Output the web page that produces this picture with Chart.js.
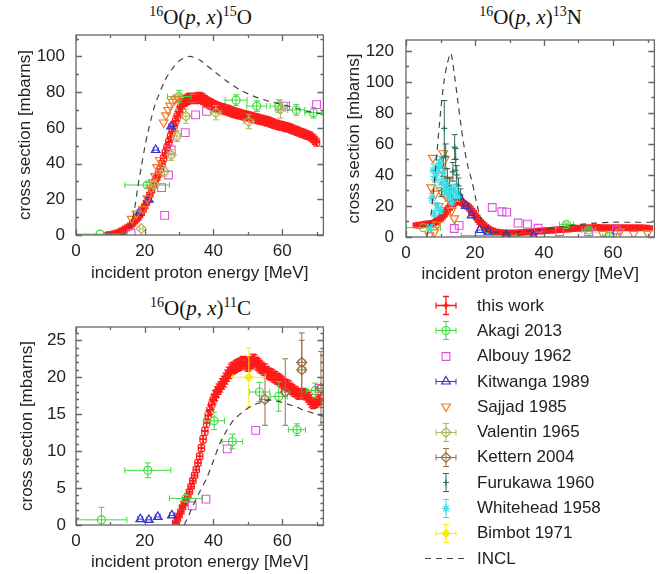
<!DOCTYPE html>
<html>
<head>
<meta charset="utf-8">
<script src="https://cdn.jsdelivr.net/npm/chart.js@4.4.0/dist/chart.umd.min.js"></script>
<style>
body { margin: 0; width: 661px; height: 574px; background: #fff; position: relative; overflow: hidden;
       font-family: 'Liberation Sans', Arial, sans-serif; }
canvas.panel { position: absolute; }
.ttl { position: absolute; text-align: center; font-family: 'Liberation Serif', 'DejaVu Serif', serif;
       font-size: 21px; line-height: 24px; color: #111; white-space: nowrap; }
.ttl sup { font-size: 14px; vertical-align: 8px; line-height: 0; }
#legend { position: absolute; left: 400px; top: 293px; }
.item { height: 25.3px; display: flex; align-items: center; font-size: 17px; color: #222; }
.item canvas { margin-left: 16px; margin-right: 1px; }
</style>
</head>
<body>
<div class="ttl" style="left:76px; width:249px; top:5px"><sup>16</sup>O(<i>p</i>, <i>x</i>)<sup>15</sup>O</div>
<div class="ttl" style="left:406px; width:249px; top:5px"><sup>16</sup>O(<i>p</i>, <i>x</i>)<sup>13</sup>N</div>
<div class="ttl" style="left:76px; width:249px; top:296px"><sup>16</sup>O(<i>p</i>, <i>x</i>)<sup>11</sup>C</div>

<canvas id="c15O" class="panel" width="330" height="290" style="left:0; top:0"></canvas>
<canvas id="c13N" class="panel" width="331" height="290" style="left:330px; top:0"></canvas>
<canvas id="c11C" class="panel" width="330" height="284" style="left:0; top:290px"></canvas>
<div id="legend"></div>

<script>
// ---- axis ticks ----
const xTicks = [0, 20, 40, 60];
const xMinorTicks = [10, 30, 50, 70];
const yTicks15O = [0, 20, 40, 60, 80, 100];
const yMinor15O = [10, 30, 50, 70, 90, 110];
const yTicks13N = [0, 20, 40, 60, 80, 100, 120];
const yMinor13N = [10, 30, 50, 70, 90, 110];
const yTicks11C = [0, 5, 10, 15, 20, 25];
const yMinor11C = [1, 2, 3, 4, 6, 7, 8, 9, 11, 12, 13, 14, 16, 17, 18, 19, 21, 22, 23, 24, 26];

// ---- this work: 16O(p,x)15O ----
const twE_15O = [9, 9.5, 10, 10.5, 11, 11.5, 12, 12.5,
  13, 13.5, 14, 14.5, 15, 15.5, 16, 16.5, 17, 17.5,
  18, 18.5, 19, 19.5, 20, 20.5, 21, 21.5, 22, 22.5,
  23, 23.5, 24, 24.5, 25, 25.5, 26, 26.5, 27, 27.5,
  28, 28.5, 29, 29.5, 30, 30.5, 31, 31.5, 32, 32.5,
  33, 33.5, 34, 34.5, 35, 35.5, 36, 36.5, 37, 37.5,
  38, 38.5, 39, 39.5, 40, 40.5, 41, 41.5, 42, 42.5,
  43, 43.5, 44, 44.5, 45, 45.5, 46, 46.5, 47, 47.5,
  48, 48.5, 49, 49.5, 50, 50.5, 51, 51.5, 52, 52.5,
  53, 53.5, 54, 54.5, 55, 55.5, 56, 56.5, 57, 57.5,
  58, 58.5, 59, 59.5, 60, 60.5, 61, 61.5, 62, 62.5,
  63, 63.5, 64, 64.5, 65, 65.5, 66, 66.5, 67, 67.5,
  68, 68.5, 69, 69.5, 70];
const twS_15O = [0.1, 0.2, 0.3, 0.5, 0.7, 0.9, 1.2, 1.6,
  2, 2.5, 3, 3.6, 4.2, 4.8, 5.5, 6.5, 7.5, 8.5,
  9.5, 11, 12.5, 14.2, 16, 18, 20, 22.5, 25, 27.5,
  30, 32, 34, 37, 40, 43, 46, 49, 52, 55,
  58, 61, 64, 66.5, 69, 71.5, 73.5, 74.8, 75.5, 76,
  76.5, 76.5, 76.5, 76.5, 76.5, 76.8, 77, 76.6, 76, 75.2,
  74.5, 74, 73.5, 73, 72.5, 72.1, 71.7, 71.4, 71, 70.8,
  70.5, 70.2, 70, 69.6, 69.2, 68.8, 68.5, 68.2, 68, 67.7,
  67.5, 67.2, 67, 66.7, 66.5, 66.2, 66, 65.7, 65.5, 65.2,
  65, 64.7, 64.5, 64.2, 64, 63.7, 63.5, 63.1, 62.7, 62.3,
  62, 61.7, 61.5, 61.2, 61, 60.7, 60.5, 60.2, 60, 59.6,
  59.2, 58.8, 58.5, 58.1, 57.7, 57.3, 57, 56.6, 56.2, 55.8,
  55.5, 54.8, 54, 53, 52];

// ---- this work: 16O(p,x)13N ----
const twE_13N = [3, 3.5, 4, 4.5, 5, 5.5, 6, 6.5, 7, 7.5,
  8, 8.5, 9, 9.5, 10, 10.5, 11, 11.5, 12, 12.5,
  13, 13.5, 14, 14.5, 15, 15.5, 16, 16.5, 17, 17.5,
  18, 18.5, 19, 19.5, 20, 20.5, 21, 21.5, 22, 22.5,
  23, 23.5, 24, 24.5, 25, 25.5, 26, 26.5, 27, 27.5,
  28, 28.5, 29, 29.5, 30, 30.5, 31, 31.5, 32, 32.5,
  33, 33.5, 34, 34.5, 35, 35.5, 36, 36.5, 37, 37.5,
  38, 38.5, 39, 39.5, 40, 40.5, 41, 41.5, 42, 42.5,
  43, 43.5, 44, 44.5, 45, 45.5, 46, 46.5, 47, 47.5,
  48, 48.5, 49, 49.5, 50, 50.5, 51, 51.5, 52, 52.5,
  53, 53.5, 54, 54.5, 55, 55.5, 56, 56.5, 57, 57.5,
  58, 58.5, 59, 59.5, 60, 60.5, 61, 61.5, 62, 62.5,
  63, 63.5, 64, 64.5, 65, 65.5, 66, 66.5, 67, 67.5,
  68, 68.5, 69, 69.5, 70, 70.5];
const twS_13N = [7.5, 7.5, 7.5, 7.7, 8, 8.2, 8.5, 8.5, 8.5, 8.7,
  9, 9.7, 10.5, 11.2, 12, 13.2, 14.5, 16, 17.5, 18.8,
  20, 21, 22, 22.6, 23, 22.8, 22.5, 21.8, 21, 20.3,
  19.5, 18.3, 17, 15.5, 14, 12.5, 11, 9.7, 8.5, 7.5,
  6.5, 5.7, 5, 4.5, 4, 3.6, 3.3, 3.1, 3, 2.8,
  2.7, 2.6, 2.5, 2.5, 2.5, 2.5, 2.5, 2.6, 2.6, 2.7,
  2.8, 2.9, 3, 3.1, 3.2, 3.2, 3.3, 3.4, 3.5, 3.6,
  3.7, 3.8, 3.9, 3.9, 4, 4.1, 4.2, 4.2, 4.3, 4.4,
  4.5, 4.5, 4.6, 4.7, 4.8, 4.9, 5, 5.1, 5.2, 5.2,
  5.3, 5.4, 5.5, 5.6, 5.7, 5.7, 5.8, 5.8, 5.9, 5.9,
  6, 6, 6, 6, 6.1, 6.1, 6.1, 6, 6, 6,
  6, 6, 6, 6, 6, 6, 6, 6, 6, 6,
  6, 6, 6, 6, 6, 6, 6, 6, 6, 6,
  5.9, 5.9, 5.8, 5.8, 5.7, 5.7];

// ---- this work: 16O(p,x)11C ----
const twE_11C = [29, 29.5, 30, 30.5, 31, 31.5, 32, 32.5, 33, 33.5,
  34, 34.5, 35, 35.5, 36, 36.5, 37, 37.5, 38, 38.5,
  39, 39.5, 40, 40.5, 41, 41.5, 42, 42.5, 43, 43.5,
  44, 44.5, 45, 45.5, 46, 46.5, 47, 47.5, 48, 48.5,
  49, 49.5, 50, 50.5, 51, 51.5, 52, 52.5, 53, 53.5,
  54, 54.5, 55, 55.5, 56, 56.5, 57, 57.5, 58, 58.5,
  59, 59.5, 60, 60.5, 61, 61.5, 62, 62.5, 63, 63.5,
  64, 64.5, 65, 65.5, 66, 66.5, 67, 67.5, 68, 68.5,
  69, 69.5, 70, 70.5, 71];
const twS_11C = [0.3, 0.8, 1.3, 1.8, 2.4, 2.9, 3.4, 3.9, 4.5, 5.2,
  6, 6.7, 7.5, 8.4, 9.3, 10.4, 11.6, 12.7, 13.8, 14.8,
  15.6, 16.3, 17, 17.5, 18, 18.4, 18.7, 19.1, 19.4, 19.8,
  20.2, 20.6, 21, 21.2, 21.3, 21.5, 21.6, 21.7, 21.8, 22,
  22, 21.8, 21.6, 21.8, 22, 22.3, 22.2, 21.9, 21.7, 21.5,
  21.3, 21.1, 21, 20.7, 20.5, 20.4, 20.3, 20.1, 20, 19.8,
  19.7, 19.5, 19.3, 19.1, 19, 18.9, 18.8, 18.5, 18.3, 18.1,
  18, 17.8, 17.7, 17.8, 17.8, 17.7, 17.6, 17.3, 17, 16.6,
  16.4, 16.5, 16.6, 16.8, 17];

// error bars of "this work": energy half-width [MeV], relative and absolute cross-section error
const twDE = 0.9;
const twRel = 0.03;
const twAbs15O = 0.6, twAbs13N = 1.0, twAbs11C = 0.15;

// ---- INCL ----
const inclE_15O = [13, 14, 15, 16, 17, 18, 19, 20, 21, 22, 23, 24, 26, 28, 30, 32, 33, 34, 36, 38, 40, 44, 48, 52, 56, 60, 64, 68, 72];
const inclS_15O = [0, 0.5, 2, 6, 14, 27, 38, 49, 58, 66, 73, 78, 87, 93, 97.5, 99.5, 100, 99.7, 98, 95, 92, 86, 81, 77.5, 75, 73, 71, 69, 67.5];
const inclE_13N = [6, 7, 8, 9, 10, 11, 12, 13, 14, 15, 16, 17, 18, 19, 20, 21, 22, 23, 24, 26, 30, 35, 40, 45, 50, 55, 60, 65, 72];
const inclS_13N = [0, 10, 30, 55, 80, 100, 112, 118.5, 105, 88, 71, 56, 45, 37, 27, 17, 10, 5, 3.5, 3, 2.8, 3.8, 5, 6.5, 8, 9, 9.5, 9.5, 9.5];
const inclE_11C = [31.5, 33, 34, 35, 36, 38, 40, 42, 44, 46, 48, 50, 52, 54, 56, 58, 60, 62, 64, 66, 68, 70, 72];
const inclS_11C = [0, 1.5, 2.6, 3.5, 4.5, 6.3, 8.7, 11.2, 12.9, 14.3, 15.1, 15.8, 16.3, 16.6, 16.9, 16.8, 16.6, 16.3, 16, 15.6, 15.3, 15, 14.7];

// ---- measurements: [E, sigma, dE, dSigma] ----
const akagi15O = [[7, 0.5, 7, 0], [20.7, 28, 6.5, 1.5], [30, 77.5, 3.4, 3.5], [46.6, 75.5, 3.2, 3],
  [52.6, 72.2, 2.9, 3], [59, 72.2, 2.5, 3.5], [64.1, 70, 2.5, 3], [69.1, 68.5, 2.5, 3]];
const albouy15O = [[16, 1], [24.9, 26.5], [25.8, 11], [26.9, 33.6], [27.7, 47.6], [31.8, 57.3],
  [34.8, 67.3], [38, 69.2], [61, 72.2], [70, 73]];
const kitwanga15O = [[18.4, 12.5, 0.7, 0], [21.2, 19.8, 0.7, 0], [23.2, 47.6, 0.7, 0], [27.7, 60.8, 0.7, 0]];
const sajjad15O = [[16.2, 9], [17.6, 12], [19.5, 14.5], [20.8, 20.5], [21.8, 26], [22.4, 29.5], [23, 33],
  [23.6, 38], [24.4, 42], [25.5, 63], [26.2, 67], [26.8, 70], [27.4, 72.5], [28.1, 74.5], [28.8, 76], [29.5, 77]];
const valentin15O = [[19, 3.5, 0.5, 0], [22.8, 28, 1, 2], [25.7, 35.5, 1, 2.5], [27.7, 44.8, 1, 3],
  [29.4, 55.4, 1, 3], [32, 66.5, 1, 4], [40.7, 68.5, 1.5, 4], [50.3, 63.5, 1.5, 4], [59.5, 70.5, 1.5, 5]];

const akagi13N = [[5, 6, 5, 0], [24, 1, 8, 0], [46.5, 8, 2, 1], [53, 4.5, 2, 1], [59, 0.5, 2, 1.5]];
const albouy13N = [[14, 5.5], [15.4, 7.5], [25, 19], [27.8, 16.3], [29.2, 16], [32.5, 9], [35.2, 8.3],
  [38.3, 5.6], [44.5, 3.5], [53, 3.5], [61, 4.5]];
const kitwanga13N = [[15.5, 26, 0.7, 0], [17.3, 20, 0.7, 0], [19, 14, 0.7, 0], [21.4, 4.5, 0.7, 0],
  [23.8, 3.5, 0.7, 0], [29, 1.2, 0.7, 0], [37, 0.8, 0.7, 0]];
const sajjad13N = [[6.8, 1], [7.3, 32], [7.8, 51], [8.2, 3], [8.5, 28], [9, 8], [9.5, 20], [10, 30],
  [10.5, 43], [10.8, 54], [11.2, 50], [11.6, 26], [12.1, 37], [12.6, 24], [13.2, 17], [14, 12],
  [57, 2], [62, 3.5], [66, 2], [70, 2.5]];
const furukawa13N = [[10.3, 30, 0, 4], [10.8, 45, 0, 6], [11.1, 70, 0, 18], [11.5, 52, 0, 8], [12, 38, 0, 6],
  [12.6, 33, 0, 5], [13.1, 27, 0, 4], [13.6, 42, 0, 6], [14.1, 58, 0, 8], [14.4, 50, 0, 7],
  [14.7, 40, 0, 6], [15.2, 33, 0, 5], [15.8, 27, 0, 4]];
const whitehead13N = [[7, 6, 0, 2], [7.5, 25, 0, 3], [7.9, 43, 0, 4], [8.4, 37, 0, 4], [8.9, 41, 0, 4],
  [9.4, 46, 0, 4], [9.8, 48, 0, 4], [10.3, 35, 0, 3], [10.8, 41, 0, 4], [11.3, 30, 0, 3], [11.8, 34, 0, 3],
  [12.3, 27, 0, 3], [12.8, 29, 0, 3], [13.3, 22, 0, 3], [13.8, 31, 0, 3], [14.4, 29, 0, 3], [14.9, 26, 0, 3],
  [8.2, 15, 0, 2], [9.1, 20, 0, 2], [10, 17, 0, 2]];

const akagi11C = [[7.4, 0.7, 7.4, 1.7], [20.9, 7.4, 6.7, 1], [32, 3.6, 4.8, 0.4], [40.2, 14.1, 3, 1.2],
  [45.5, 11.3, 3, 1], [53.4, 18, 3, 1.3], [59, 17.4, 2.5, 2], [64.3, 12.9, 2.5, 0.8], [69.6, 18.2, 2.5, 1]];
const albouy11C = [[33.8, 2.6], [37.8, 3.5], [44, 10.3], [52.3, 12.8], [70.8, 18.5]];
const kitwanga11C = [[18.7, 0.8, 0.7, 0], [21.2, 0.7, 0.7, 0], [23.8, 1.1, 0.7, 0], [27.9, 1.3, 0.7, 0]];
const kettern11C = [[55, 17, 1, 3.5], [60.9, 18, 1, 4.5], [65.7, 22, 1, 4], [65.7, 21, 1, 4], [71.3, 18.5, 1, 5]];
const bimbot11C = [[50.3, 20, 4.8, 4]];

// ---- styles ----
const FONT = "'Liberation Sans', Arial, sans-serif";
const STY = {
  tw:   { color: '#ff1a1a', style: 'cross', r: 3.5, bw: 1.6, ew: 1.3, ex: true, ey: true },
  akagi:{ color: '#3ddc3d', style: 'circle', r: 4, bw: 1.2, ex: true, ey: true },
  albouy:{ color: '#e050e0', style: 'rect', r: 5.5, bw: 1.1 },
  kitwanga:{ color: '#3434cc', style: 'triangle', r: 5, bw: 1.2, ex: true },
  sajjad:{ color: '#f07a2a', style: 'triangle', rot: 180, r: 5, bw: 1.2 },
  valentin:{ color: '#b3b35c', style: 'rectRot', r: 5, bw: 1.2, ex: true, ey: true },
  kettern:{ color: '#98703f', style: 'rectRot', r: 5, bw: 1.2, ex: true, ey: true },
  furukawa:{ color: '#2d6b55', style: 'cross', r: 3, bw: 1.2, ey: true },
  whitehead:{ color: '#33e0e8', style: 'star', r: 4, bw: 1.2, ey: true },
  bimbot:{ color: '#ffea10', style: 'rectRot', r: 4, bw: 1.2, fill: '#ffea10', ex: true, ey: true },
  incl: { color: '#444', dash: true }
};

const legendLabels = ['this work', 'Akagi 2013', 'Albouy 1962', 'Kitwanga 1989', 'Sajjad 1985', 'Valentin 1965',
  'Kettern 2004', 'Furukawa 1960', 'Whitehead 1958', 'Bimbot 1971', 'INCL'];
const legendKeys = ['tw', 'akagi', 'albouy', 'kitwanga', 'sajjad', 'valentin', 'kettern', 'furukawa', 'whitehead', 'bimbot', 'incl'];

function measured(key, rows) {
  const s = STY[key];
  return {
    data: rows.map(r => ({ x: r[0], y: r[1], dx: r[2] || 0, dy: r[3] || 0 })),
    showLine: false, errorBars: true, errWidth: s.ew || 1,
    pointStyle: s.style, pointRotation: s.rot || 0, pointRadius: s.r, borderWidth: s.bw,
    borderColor: s.color, backgroundColor: s.fill || 'rgba(0,0,0,0)'
  };
}
function thisWork(E, S, abs) {
  return measured('tw', E.map((e, i) => [e, S[i], twDE, S[i] * twRel + abs]));
}
function incl(E, S) {
  return {
    data: E.map((e, i) => ({ x: e, y: S[i] })),
    showLine: true, pointRadius: 0, borderColor: STY.incl.color, borderWidth: 1.2,
    borderDash: [6, 5], tension: 0.3, fill: false
  };
}

// error bars with caps, drawn under each dataset's markers
const CAP = 3;
const errorBarPlugin = {
  id: 'errorBars',
  beforeDatasetDraw(chart, args) {
    const ds = chart.data.datasets[args.index];
    if (!ds.errorBars) return;
    const { ctx, chartArea: a, scales: { x, y } } = chart;
    ctx.save();
    ctx.beginPath();
    ctx.rect(a.left, a.top, a.right - a.left, a.bottom - a.top);
    ctx.clip();
    ctx.strokeStyle = ds.borderColor;
    ctx.lineWidth = ds.errWidth;
    ctx.beginPath();
    ds.data.forEach(p => {
      const px = x.getPixelForValue(p.x), py = y.getPixelForValue(p.y);
      if (p.dx) {
        const l = x.getPixelForValue(p.x - p.dx), r = x.getPixelForValue(p.x + p.dx);
        ctx.moveTo(l, py); ctx.lineTo(r, py);
        ctx.moveTo(l, py - CAP); ctx.lineTo(l, py + CAP);
        ctx.moveTo(r, py - CAP); ctx.lineTo(r, py + CAP);
      }
      if (p.dy) {
        const t = y.getPixelForValue(p.y + p.dy), b = y.getPixelForValue(p.y - p.dy);
        ctx.moveTo(px, t); ctx.lineTo(px, b);
        ctx.moveTo(px - CAP, t); ctx.lineTo(px + CAP, t);
        ctx.moveTo(px - CAP, b); ctx.lineTo(px + CAP, b);
      }
    });
    ctx.stroke();
    ctx.restore();
  }
};

// gnuplot-like border with inward ticks on all four sides
const framePlugin = {
  id: 'frame',
  afterDatasetsDraw(chart, args, opts) {
    const { ctx, chartArea: a, scales: { x, y } } = chart;
    ctx.save();
    ctx.strokeStyle = '#666';
    ctx.lineWidth = 1.3;
    ctx.beginPath();
    const xt = (vals, len) => vals.forEach(v => {
      const p = Math.round(x.getPixelForValue(v)) + 0.5;
      ctx.moveTo(p, a.bottom); ctx.lineTo(p, a.bottom - len);
      ctx.moveTo(p, a.top); ctx.lineTo(p, a.top + len);
    });
    const yt = (vals, len) => vals.forEach(v => {
      const p = Math.round(y.getPixelForValue(v)) + 0.5;
      ctx.moveTo(a.left, p); ctx.lineTo(a.left + len, p);
      ctx.moveTo(a.right, p); ctx.lineTo(a.right - len, p);
    });
    xt(opts.xMajor, 6); xt(opts.xMinor, 3);
    yt(opts.yMajor, 6); yt(opts.yMinor, 3);
    ctx.stroke();
    ctx.strokeRect(a.left, a.top, a.right - a.left, a.bottom - a.top);
    ctx.restore();
  }
};

function panel(id, o) {
  return new Chart(document.getElementById(id), {
    type: 'scatter',
    data: { datasets: o.datasets },
    options: {
      responsive: false, animation: false, events: [],
      layout: { padding: o.pad },
      plugins: {
        legend: { display: false }, tooltip: { enabled: false },
        frame: { xMajor: xTicks, xMinor: xMinorTicks, yMajor: o.yTicks, yMinor: o.yMinor }
      },
      scales: {
        x: {
          type: 'linear', min: 0, max: 72,
          afterBuildTicks: s => { s.ticks = xTicks.map(v => ({ value: v })); },
          afterFit: s => { s.height = o.xH; },
          ticks: { font: { size: 17, family: FONT }, color: '#222', padding: 6, maxRotation: 0 },
          grid: { display: false, drawTicks: false }, border: { display: false },
          title: { display: true, text: 'incident proton energy [MeV]', color: '#222',
                   font: { size: 17, family: FONT }, padding: { top: 0, bottom: o.xTitlePad } }
        },
        y: {
          type: 'linear', min: 0, max: o.yMax,
          afterBuildTicks: s => { s.ticks = o.yTicks.map(v => ({ value: v })); },
          afterFit: s => { s.width = 76; },
          ticks: { font: { size: 17, family: FONT }, color: '#222', padding: o.yPad },
          grid: { display: false, drawTicks: false }, border: { display: false },
          title: { display: true, text: 'cross section [mbarns]', color: '#222',
                   font: { size: 17, family: FONT }, padding: { top: o.yTitlePad, bottom: 0 } }
        }
      }
    },
    plugins: [errorBarPlugin, framePlugin]
  });
}

panel('c15O', {
  yMax: 112, yTicks: yTicks15O, yMinor: yMinor15O, yPad: 11, yTitlePad: 15, xH: 55, xTitlePad: 6,
  pad: { left: 0, right: 5, top: 35, bottom: 0 },
  datasets: [
    incl(inclE_15O, inclS_15O),
    measured('valentin', valentin15O),
    measured('sajjad', sajjad15O),
    measured('kitwanga', kitwanga15O),
    measured('albouy', albouy15O),
    measured('akagi', akagi15O),
    thisWork(twE_15O, twS_15O, twAbs15O)
  ]
});

panel('c13N', {
  yMax: 127, yTicks: yTicks13N, yMinor: yMinor13N, yPad: 12, yTitlePad: 14, xH: 53, xTitlePad: 5,
  pad: { left: 0, right: 6, top: 40, bottom: 0 },
  datasets: [
    incl(inclE_13N, inclS_13N),
    measured('whitehead', whitehead13N),
    measured('furukawa', furukawa13N),
    measured('sajjad', sajjad13N),
    measured('kitwanga', kitwanga13N),
    measured('albouy', albouy13N),
    measured('akagi', akagi13N),
    thisWork(twE_13N, twS_13N, twAbs13N)
  ]
});

panel('c11C', {
  yMax: 26.8, yTicks: yTicks11C, yMinor: yMinor11C, yPad: 10, yTitlePad: 17, xH: 49, xTitlePad: 1,
  pad: { left: 0, right: 5, top: 37, bottom: 0 },
  datasets: [
    incl(inclE_11C, inclS_11C),
    measured('bimbot', bimbot11C),
    measured('kettern', kettern11C),
    measured('kitwanga', kitwanga11C),
    measured('albouy', albouy11C),
    measured('akagi', akagi11C),
    thisWork(twE_11C, twS_11C, twAbs11C)
  ]
});

// ---- legend (HTML labels, symbols drawn with Chart.js point helper) ----
const legendBox = document.getElementById('legend');
legendKeys.forEach((key, i) => {
  const s = STY[key];
  const row = document.createElement('div');
  row.className = 'item';
  const cv = document.createElement('canvas');
  cv.width = 60; cv.height = 25;
  const ctx = cv.getContext('2d');
  const cx = 30, cy = 12.5;
  ctx.strokeStyle = s.color;
  ctx.lineWidth = s.ew || 1;
  ctx.beginPath();
  if (s.dash) {
    ctx.setLineDash([6, 5]);
    ctx.lineWidth = 1.2;
    ctx.moveTo(9, cy); ctx.lineTo(51, cy);
  }
  if (s.ex) {
    ctx.moveTo(cx - 10, cy); ctx.lineTo(cx + 10, cy);
    ctx.moveTo(cx - 10, cy - CAP); ctx.lineTo(cx - 10, cy + CAP);
    ctx.moveTo(cx + 10, cy - CAP); ctx.lineTo(cx + 10, cy + CAP);
  }
  if (s.ey) {
    ctx.moveTo(cx, cy - 9); ctx.lineTo(cx, cy + 9);
    ctx.moveTo(cx - CAP, cy - 9); ctx.lineTo(cx + CAP, cy - 9);
    ctx.moveTo(cx - CAP, cy + 9); ctx.lineTo(cx + CAP, cy + 9);
  }
  ctx.stroke();
  ctx.setLineDash([]);
  if (s.style && Chart.helpers && Chart.helpers.drawPoint) {
    ctx.fillStyle = s.fill || 'rgba(0,0,0,0)';
    ctx.lineWidth = s.bw;
    Chart.helpers.drawPoint(ctx, { pointStyle: s.style, rotation: s.rot || 0, radius: s.r, borderWidth: s.bw }, cx, cy);
  }
  if (key === 'tw') {
    ctx.fillStyle = s.color;
    ctx.fillRect(cx - 1.5, cy - 1.5, 3, 3);
  }
  const label = document.createElement('span');
  label.textContent = legendLabels[i];
  row.appendChild(cv);
  row.appendChild(label);
  legendBox.appendChild(row);
});
</script>
</body>
</html>
